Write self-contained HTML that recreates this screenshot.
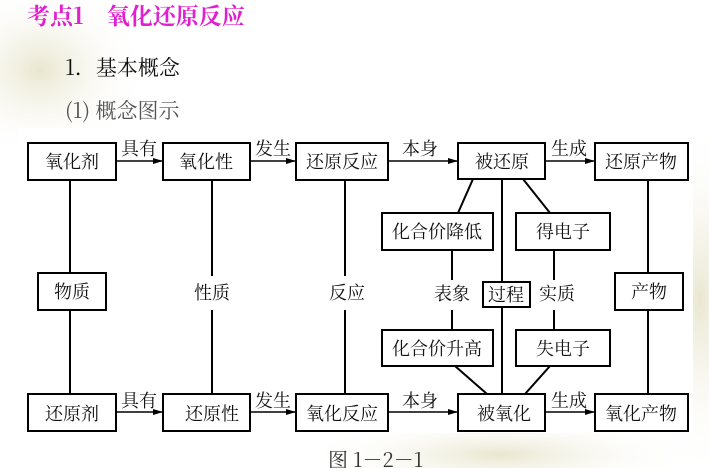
<!DOCTYPE html>
<html><head><meta charset="utf-8"><style>
html,body{margin:0;padding:0;width:709px;height:468px;overflow:hidden;background:#fff}
svg{display:block}
text{font-family:"Noto Serif CJK SC","Liberation Serif",serif}
</style></head><body>
<svg width="709" height="468" viewBox="0 0 709 468" xmlns="http://www.w3.org/2000/svg">
<defs>
<radialGradient id="g1" cx="0.5" cy="0.5" r="0.5"><stop offset="0" stop-color="#e9e6cf"/><stop offset="1" stop-color="#ffffff" stop-opacity="0"/></radialGradient>
<marker id="ar" markerWidth="10" markerHeight="8" refX="9" refY="4" orient="auto" markerUnits="userSpaceOnUse"><path d="M0,1 L10,4 L0,7 z" fill="#000"/></marker>
</defs>
<rect width="709" height="468" fill="#fff"/>
<ellipse cx="40" cy="70" rx="110" ry="90" fill="url(#g1)"/>
<ellipse cx="700" cy="300" rx="60" ry="180" fill="url(#g1)"/>
<ellipse cx="500" cy="455" rx="200" ry="40" fill="url(#g1)"/>
<rect x="18" y="128" width="675" height="305" fill="#fff"/>
<text x="27" y="24" font-size="23" font-weight="bold" fill="#e020d0">考点1　氧化还原反应</text>
<text x="65" y="75" font-size="21" fill="#111">1．基本概念</text>
<text x="65" y="118" font-size="21" fill="#555">(1)  概念图示</text>
<g stroke="#000" stroke-width="2" fill="none">
<line x1="70" y1="180" x2="70" y2="273"/><line x1="70" y1="310" x2="70" y2="394"/>
<line x1="212" y1="180" x2="212" y2="276"/><line x1="212" y1="310" x2="212" y2="394"/>
<line x1="345" y1="180" x2="345" y2="276"/><line x1="345" y1="310" x2="345" y2="394"/>
<line x1="502" y1="179" x2="502" y2="282"/><line x1="502" y1="307" x2="502" y2="394"/>
<line x1="473" y1="179" x2="458" y2="213"/><line x1="523" y1="179" x2="550" y2="213"/>
<line x1="452" y1="250" x2="452" y2="280"/><line x1="452" y1="310" x2="452" y2="330"/>
<line x1="554" y1="250" x2="554" y2="280"/><line x1="554" y1="310" x2="554" y2="330"/>
<line x1="455" y1="366" x2="487" y2="394"/><line x1="550" y1="366" x2="525" y2="394"/>
<line x1="648" y1="180" x2="648" y2="273"/><line x1="648" y1="310" x2="648" y2="394"/>
<g marker-end="url(#ar)" stroke-width="1.5">
<line x1="116" y1="161" x2="162" y2="161"/><line x1="250" y1="161" x2="295" y2="161"/>
<line x1="388" y1="161" x2="457" y2="161"/><line x1="545" y1="161" x2="594" y2="161"/>
<line x1="116" y1="412" x2="162" y2="412"/><line x1="250" y1="412" x2="295" y2="412"/>
<line x1="388" y1="412" x2="457" y2="412"/><line x1="545" y1="412" x2="594" y2="412"/>
</g>
<g fill="#fff">
<rect x="28" y="143" width="88" height="37"/><rect x="163" y="143" width="87" height="37"/>
<rect x="296" y="143" width="92" height="37"/><rect x="458" y="143" width="87" height="36"/>
<rect x="595" y="143" width="93" height="37"/>
<rect x="382" y="213" width="111" height="37"/><rect x="516" y="213" width="94" height="37"/>
<rect x="38" y="273" width="68" height="37"/><rect x="483" y="282" width="47" height="25"/>
<rect x="615" y="273" width="68" height="37"/>
<rect x="382" y="330" width="111" height="36"/><rect x="516" y="330" width="94" height="36"/>
<rect x="28" y="394" width="88" height="37"/><rect x="163" y="394" width="87" height="37"/>
<rect x="296" y="394" width="92" height="37"/><rect x="458" y="394" width="87" height="37"/>
<rect x="595" y="394" width="93" height="37"/>
</g>
</g>
<g font-size="18" fill="#111" text-anchor="middle">
<text x="72" y="168">氧化剂</text><text x="206" y="168">氧化性</text><text x="342" y="168">还原反应</text>
<text x="502" y="168">被还原</text><text x="641" y="168">还原产物</text>
<text x="437" y="238">化合价降低</text><text x="563" y="238">得电子</text>
<text x="72" y="298">物质</text><text x="212" y="299">性质</text><text x="347" y="299">反应</text>
<text x="452" y="300">表象</text><text x="506" y="301">过程</text><text x="557" y="300">实质</text>
<text x="649" y="298">产物</text>
<text x="437" y="355">化合价升高</text><text x="563" y="355">失电子</text>
<text x="72" y="420">还原剂</text><text x="212" y="420">还原性</text><text x="342" y="420">氧化反应</text>
<text x="504" y="420">被氧化</text><text x="641" y="420">氧化产物</text>
<text x="139" y="155">具有</text><text x="273" y="155">发生</text><text x="420" y="155">本身</text><text x="569" y="155">生成</text>
<text x="139" y="407">具有</text><text x="273" y="407">发生</text><text x="420" y="407">本身</text><text x="569" y="407">生成</text>
</g>
<text x="328" y="467" font-size="20" fill="#333">图 1－2－1</text>
</svg>
</body></html>
